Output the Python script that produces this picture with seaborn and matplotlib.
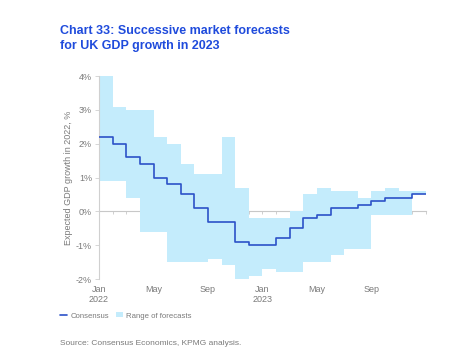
import numpy as np
import pandas as pd
import matplotlib
matplotlib.use('Agg')
import matplotlib.pyplot as plt
import seaborn as sns
from matplotlib.lines import Line2D
from matplotlib.patches import Patch

# Datos (mensual, ene 2022 - dic 2023)
meses = ['Jan 2022', 'Feb 2022', 'Mar 2022', 'Apr 2022', 'May 2022', 'Jun 2022',
         'Jul 2022', 'Aug 2022', 'Sep 2022', 'Oct 2022', 'Nov 2022', 'Dec 2022',
         'Jan 2023', 'Feb 2023', 'Mar 2023', 'Apr 2023', 'May 2023', 'Jun 2023',
         'Jul 2023', 'Aug 2023', 'Sep 2023', 'Oct 2023', 'Nov 2023', 'Dec 2023']
consenso = [2.2, 2.0, 1.6, 1.4, 1.0, 0.8, 0.5, 0.1, -0.3, -0.3, -0.9, -1.0,
            -1.0, -0.8, -0.5, -0.2, -0.1, 0.1, 0.1, 0.2, 0.3, 0.4, 0.4, 0.5]
maximo = [4.0, 3.1, 3.0, 3.0, 2.2, 2.0, 1.4, 1.1, 1.1, 2.2, 0.7, -0.2,
          -0.2, -0.2, 0.0, 0.5, 0.7, 0.6, 0.6, 0.4, 0.6, 0.7, 0.6, 0.6]
minimo = [0.9, 0.9, 0.4, -0.6, -0.6, -1.5, -1.5, -1.5, -1.4, -1.6, -2.0, -1.9,
          -1.7, -1.8, -1.8, -1.5, -1.5, -1.3, -1.1, -1.1, -0.1, -0.1, -0.1, 0.5]
etiquetas_x = ['Jan\n2022', 'May', 'Sep', 'Jan\n2023', 'May', 'Sep']
etiquetas_y = ['-2%', '-1%', '0%', '1%', '2%', '3%', '4%']

azul = '#2c52c8'
celeste = '#c4ecfc'
gris = '#7a7a7a'

df = pd.DataFrame({'mes': np.arange(len(meses)), 'consenso': consenso,
                   'maximo': maximo, 'minimo': minimo})
# repetir el ultimo mes para cerrar el escalon
ultimo = df.iloc[[-1]].copy()
ultimo['mes'] = len(meses)
df = pd.concat([df, ultimo], ignore_index=True)

sns.set_style('white')
plt.rcParams['font.family'] = ['Liberation Sans', 'DejaVu Sans']

fig = plt.figure(figsize=(4.65, 3.64), dpi=100)
ax = fig.add_axes([0.213, 0.2335, 0.703, 0.5575])

ax.fill_between(df['mes'], df['minimo'], df['maximo'], step='post',
                color=celeste, linewidth=0, zorder=1)
sns.lineplot(x='mes', y='consenso', data=df, drawstyle='steps-post',
             color=azul, linewidth=1.2, ax=ax, zorder=3)

ax.set_xlim(0, len(meses))
ax.set_ylim(-2, 4)
ax.set_xticks(range(0, len(meses), 4))
ax.set_xticklabels(etiquetas_x)
ax.set_yticks(range(-2, 5))
ax.set_yticklabels(etiquetas_y)
ax.set_xlabel('')
ax.set_ylabel('Expected GDP growth in 2022, %', fontsize=6.5, color=gris)
ax.yaxis.set_label_coords(-0.08, 0.5)

for s in ['top', 'right', 'bottom']:
    ax.spines[s].set_visible(False)
ax.spines['left'].set_color('#d0d0d0')
ax.spines['left'].set_linewidth(0.8)
ax.tick_params(axis='x', length=0, labelsize=6.5, labelcolor=gris, pad=4)
ax.tick_params(axis='y', length=3, width=0.6, color='#d0d0d0', labelsize=6.5,
               labelcolor=gris, pad=2, left=True)

# linea del cero con marcas mensuales
eje0 = ax.secondary_xaxis(1 / 3)
eje0.set_xticks(range(len(meses) + 1))
eje0.set_xticklabels([])
eje0.tick_params(length=2, width=0.6, color='#c8c8c8', direction='out')
eje0.spines['bottom'].set_color('#c8c8c8')
eje0.spines['bottom'].set_linewidth(0.8)
for s in ['top', 'left', 'right']:
    eje0.spines[s].set_visible(False)

fig.text(0.129, 0.931, 'Chart 33: Successive market forecasts\nfor UK GDP growth in 2023',
         color='#1f4bdc', fontsize=9, fontweight='bold', va='top', ha='left',
         linespacing=1.3)

# leyenda
manijas = [Line2D([0], [0], color=azul, linewidth=1.2),
           Patch(facecolor=celeste, edgecolor='none')]
fig.legend(manijas, ['Consensus', 'Range of forecasts'], loc='center left',
           bbox_to_anchor=(0.115, 0.132), ncol=2, frameon=False, fontsize=5.6,
           handlelength=0.9, handleheight=0.6, handletextpad=0.4, columnspacing=0.9,
           labelcolor=gris)

fig.text(0.129, 0.055, 'Source: Consensus Economics, KPMG analysis.',
         color=gris, fontsize=6, ha='left', va='center')

fig.savefig('out.png', dpi=100)
